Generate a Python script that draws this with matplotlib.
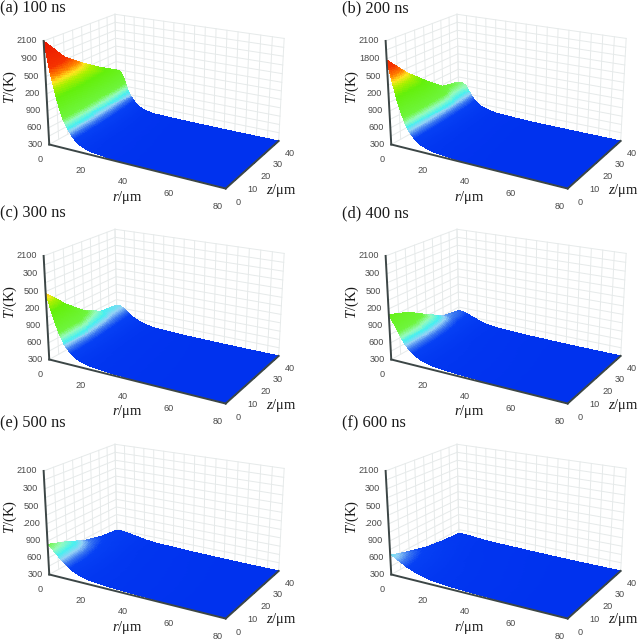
from __future__ import annotations

import matplotlib

matplotlib.use("Agg")

import matplotlib.pyplot as plt
import numpy as np
from matplotlib.colors import LinearSegmentedColormap

plt.rcParams["mathtext.fontset"] = "custom"
plt.rcParams["mathtext.rm"] = "Liberation Serif"
plt.rcParams["mathtext.it"] = "Liberation Serif:italic"

FIG_W, FIG_H = 640, 639

TITLES = ["(a) 100 ns", "(b) 200 ns", "(c) 300 ns", "(d) 400 ns", "(e) 500 ns", "(f) 600 ns"]
R_VALUES = [0, 2, 4, 6, 8, 10, 12, 15, 20, 30, 40, 60, 80]
Z_VALUES = [0, 10, 20, 30, 40]
T_TICKS = [300, 600, 900, 1200, 1500, 1800, 2100]
R_TICKS = [0, 20, 40, 60, 80]
Z_TICKS = [0, 10, 20, 30, 40]

# tick text as it is printed, the scan cuts off the leading 1 in most panels
T_LABELS = [
    ["300", "600", "900", "200", "500", "'900", "2100"],
    ["300", "600", "900", "200", "500", "1800", "2100"],
    ["300", "600", "900", "200", "500", "300", "2100"],
    ["300", "600", "900", "200", "500", "300", "2100"],
    ["300", "600", "900", ".200", "500", "300", "2100"],
    ["300", "600", "900", ".200", "500", "300", "2100"],
]

# temperature, rows follow Z_VALUES, columns follow R_VALUES
TEMP_A = [
    [2100, 1650, 1300, 1000, 780, 650, 540, 430, 360, 320, 310, 302, 300],
    [1700, 1500, 1250, 950, 740, 620, 520, 420, 350, 320, 308, 302, 300],
    [1450, 1350, 1130, 870, 690, 580, 490, 400, 345, 315, 306, 301, 300],
    [1230, 1190, 1030, 790, 630, 530, 450, 380, 335, 312, 305, 301, 300],
    [1040, 1030, 920, 700, 560, 470, 400, 350, 320, 310, 305, 300, 300],
]
TEMP_B = [
    [1780, 1450, 1130, 900, 700, 590, 500, 420, 360, 325, 312, 303, 300],
    [1420, 1300, 1080, 860, 680, 570, 490, 410, 355, 322, 310, 302, 300],
    [1130, 1080, 960, 790, 640, 540, 470, 400, 350, 320, 308, 302, 300],
    [870, 860, 800, 700, 590, 510, 440, 385, 340, 316, 306, 301, 300],
    [800, 800, 760, 640, 530, 460, 410, 370, 335, 314, 305, 301, 300],
]
TEMP_C = [
    [1470, 1220, 980, 790, 640, 550, 480, 410, 360, 330, 318, 305, 300],
    [1130, 1050, 900, 750, 620, 530, 470, 405, 355, 328, 316, 304, 300],
    [850, 820, 740, 650, 560, 490, 440, 390, 345, 325, 314, 304, 300],
    [680, 670, 630, 570, 510, 460, 420, 375, 340, 322, 312, 303, 300],
    [640, 640, 600, 540, 480, 440, 410, 370, 340, 320, 310, 303, 300],
]
TEMP_D = [
    [1100, 980, 850, 720, 610, 540, 480, 420, 370, 340, 325, 306, 300],
    [980, 930, 810, 690, 590, 520, 470, 410, 365, 337, 323, 306, 300],
    [780, 750, 690, 610, 540, 490, 445, 400, 355, 333, 320, 305, 300],
    [590, 580, 560, 520, 480, 445, 415, 380, 345, 328, 316, 304, 300],
    [530, 530, 510, 480, 450, 425, 400, 370, 345, 325, 315, 304, 300],
]
TEMP_E = [
    [840, 790, 710, 640, 570, 520, 470, 420, 375, 345, 330, 310, 300],
    [720, 700, 650, 600, 540, 500, 460, 415, 370, 343, 328, 310, 300],
    [570, 560, 540, 510, 480, 455, 430, 395, 360, 338, 325, 308, 300],
    [480, 480, 470, 450, 430, 415, 400, 375, 350, 333, 320, 306, 300],
    [440, 440, 435, 425, 410, 400, 385, 365, 345, 330, 318, 305, 300],
]
TEMP_F = [
    [650, 630, 590, 550, 510, 480, 450, 415, 375, 345, 330, 310, 300],
    [540, 535, 515, 490, 465, 445, 425, 400, 365, 342, 328, 309, 300],
    [450, 450, 440, 430, 415, 400, 390, 370, 350, 335, 323, 307, 300],
    [400, 400, 395, 390, 380, 370, 360, 350, 338, 328, 318, 305, 300],
    [375, 375, 372, 368, 362, 355, 348, 340, 332, 325, 315, 304, 300],
]
PANEL_TEMPS = [TEMP_A, TEMP_B, TEMP_C, TEMP_D, TEMP_E, TEMP_F]

CMAP_STOPS = [
    (300, "#0032ee"), (500, "#0640f4"), (560, "#3c78f0"), (620, "#96d2f5"),
    (680, "#46f0f0"), (760, "#96fabe"), (850, "#6ef53c"), (1200, "#64f00a"),
    (1350, "#aaf000"), (1450, "#ffe61e"), (1550, "#ff8200"), (1700, "#f53200"),
    (2100, "#eb1900"),
]
GRID = "#e6eaea"
AXIS = "#3c4646"
TICK = "#4a4a4a"

cmap = LinearSegmentedColormap.from_list(
    "temp", [((t - 300) / 1800, c) for t, c in CMAP_STOPS], N=512
)


def surface_mesh(temps: list[list[int]]) -> tuple[np.ndarray, np.ndarray, np.ndarray]:
    # finer mesh over the read table so the colours run smoothly
    r_fine = np.concatenate([np.linspace(0, 20, 90), np.linspace(20.5, 80, 60)])
    z_fine = np.linspace(0, 40, 36)
    table = np.array(temps, dtype=float)
    along_r = np.array([np.interp(r_fine, R_VALUES, row) for row in table])
    fine = np.array([np.interp(z_fine, Z_VALUES, col) for col in along_r.T]).T
    rr, zz = np.meshgrid(r_fine, z_fine)
    return rr, zz, fine


def draw_box(ax) -> None:
    for r in range(0, 81, 5):
        ax.plot([r, r], [40, 40], [300, 2100], color=GRID, lw=0.7, zorder=1)
    for z in range(0, 41, 5):
        ax.plot([0, 0], [z, z], [300, 2100], color=GRID, lw=0.7, zorder=1)
    for t in range(300, 2101, 150):
        ax.plot([0, 80], [40, 40], [t, t], color=GRID, lw=0.7, zorder=1)
        ax.plot([0, 0], [0, 40], [t, t], color=GRID, lw=0.7, zorder=1)


def draw_axes(ax, t_labels: list[str]) -> None:
    ax.plot([0, 0], [0, 0], [300, 2100], color=AXIS, lw=1.4, zorder=4)
    ax.plot([0, 80], [0, 0], [300, 300], color=AXIS, lw=1.4, zorder=4)
    ax.plot([80, 80], [0, 40], [300, 300], color=AXIS, lw=1.4, zorder=4)
    style = dict(color=TICK, fontsize=6.6, family="Liberation Sans", zorder=5)
    for t, label in zip(T_TICKS, t_labels):
        ax.text(-2.5, -1, t, label, ha="right", va="center", **style)
    for r in R_TICKS:
        ax.text(r, -5, 200, str(r), ha="center", va="top", **style)
    for z in Z_TICKS:
        ax.text(85, z, 190, str(z), ha="center", va="top", **style)


def panel(fig, index: int) -> None:
    dx = 342 * (index % 2)
    dy = 215 * (index // 2)
    size = 340
    left = (160 - size / 2 + dx) / FIG_W
    bottom = 1 - (97 + size / 2 + dy) / FIG_H
    ax = fig.add_axes([left, bottom, size / FIG_W, size / FIG_H], projection="3d", computed_zorder=False)
    ax.patch.set_alpha(0)
    ax.set_axis_off()
    ax.set_proj_type("persp", focal_length=0.42)
    ax.view_init(elev=19.5, azim=-60)
    ax.set_box_aspect((222, 140, 122), zoom=0.74)
    ax.set_xlim(0, 80)
    ax.set_ylim(0, 40)
    ax.set_zlim(300, 2100)
    ax.set_xticks([])
    ax.set_yticks([])
    ax.set_zticks([])

    draw_box(ax)
    rr, zz, temp = surface_mesh(PANEL_TEMPS[index])
    colors = cmap((temp - 300) / 1800)
    ax.plot_surface(rr, zz, temp, facecolors=colors, rstride=1, cstride=1, shade=False,
                    linewidth=0, antialiased=False, zorder=2)
    draw_axes(ax, T_LABELS[index])

    serif = dict(family="Liberation Serif", color="#1a1a1a")
    title_y = [8, 213, 423][index // 2]
    fig.text((0 + dx) / FIG_W, 1 - title_y / FIG_H, TITLES[index], fontsize=11.8, va="center", **serif)
    fig.text((10 + dx) / FIG_W, 1 - (87 + dy) / FIG_H, r"$T$/(K)", rotation=90, fontsize=10.5,
             ha="center", va="center", **serif)
    fig.text((127 + dx) / FIG_W, 1 - (197 + dy) / FIG_H, r"$r$/μm", fontsize=10.5,
             ha="center", va="center", **serif)
    fig.text((281 + dx) / FIG_W, 1 - (190 + dy) / FIG_H, r"$z$/μm", fontsize=10.5,
             ha="center", va="center", **serif)


def main() -> None:
    fig = plt.figure(figsize=(FIG_W / 100, FIG_H / 100), dpi=100, facecolor="white")
    for index in range(len(TITLES)):
        panel(fig, index)
    fig.savefig("out.png", dpi=100)


if __name__ == "__main__":
    main()
